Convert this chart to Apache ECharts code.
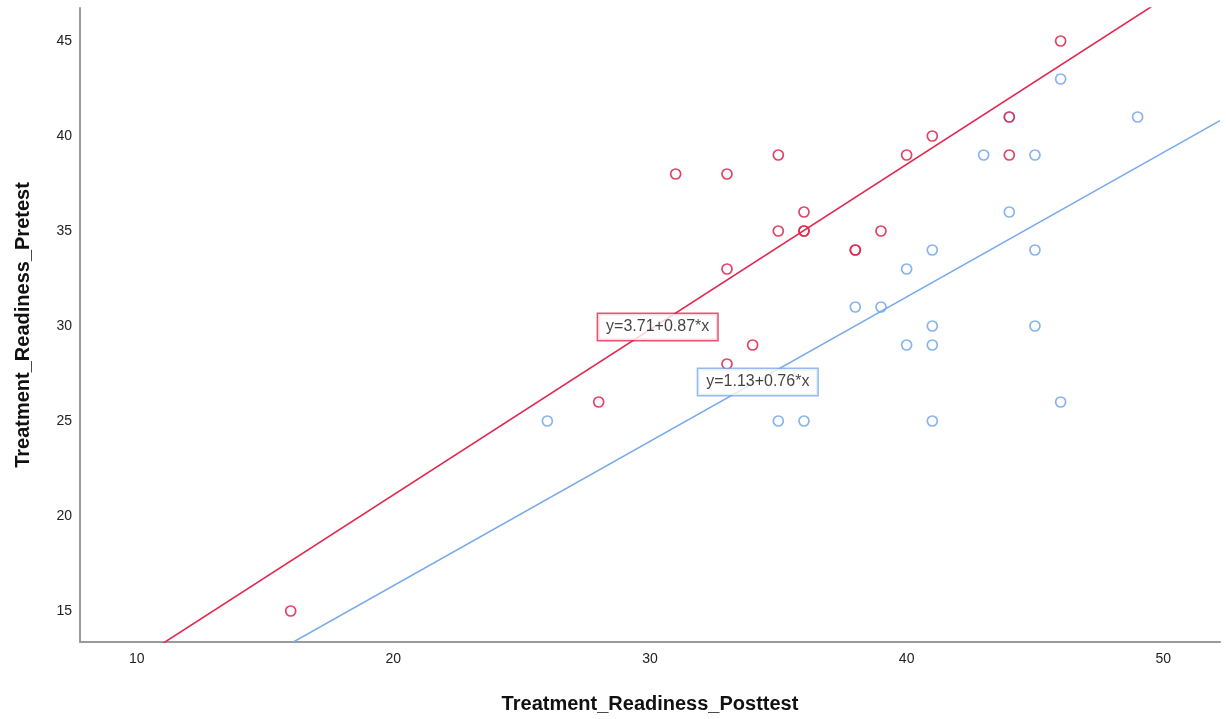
<!DOCTYPE html>
<html>
<head>
<meta charset="utf-8">
<script src="https://cdn.jsdelivr.net/npm/echarts@6/dist/echarts.min.js"></script>
<style>
html,body{margin:0;padding:0;background:#fff;}
#chart{width:1226px;height:719px;}
</style>
</head>
<body>
<div id="chart"></div>
<script>
// Data
const redX = [16, 28, 31, 33, 33, 33, 34, 35, 35, 36, 36, 36, 38, 38, 39, 40, 41, 44, 44, 46];
const redY = [15, 26, 38, 38, 33, 28, 29, 39, 35, 36, 35, 35, 34, 34, 35, 39, 40, 41, 39, 45];
const blueX = [26, 35, 36, 38, 39, 40, 40, 41, 41, 41, 41, 43, 44, 44, 45, 45, 45, 46, 46, 49];
const blueY = [25, 25, 25, 31, 31, 33, 29, 34, 30, 29, 25, 39, 41, 36, 39, 34, 30, 43, 26, 41];
const redFit = [3.71, 0.87];   // intercept, slope
const blueFit = [1.13, 0.76];
const redFitLabel = 'y=3.71+0.87*x';
const blueFitLabel = 'y=1.13+0.76*x';
const xTicks = [10, 20, 30, 40, 50];
const yTicks = [15, 20, 25, 30, 35, 40, 45];
const xTitle = 'Treatment_Readiness_Posttest';
const yTitle = 'Treatment_Readiness_Pretest';

const RED = '#e0284f';
const BLUE = '#78aaea';
const X_MIN = 7.79, X_MAX = 52.21, Y_MIN = 13.368, Y_MAX = 46.737;
const FONT = 'Liberation Sans, Arial, sans-serif';

function pts(xs, ys) { return xs.map((x, i) => [x, ys[i]]); }
function fitLine(f) { return [[X_MIN, f[0] + f[1] * X_MIN], [X_MAX, f[0] + f[1] * X_MAX]]; }

const chart = echarts.init(document.getElementById('chart'), null, {renderer: 'canvas'});
const markerStyle = c => ({color: 'rgba(0,0,0,0)', borderColor: c, borderWidth: 1.7, opacity: 0.88});
const labelSeries = (pos, text, c) => ({
  type: 'scatter', data: [pos], symbolSize: 1, z: 10,
  itemStyle: {color: 'rgba(0,0,0,0)'},
  label: {show: true, position: 'inside', formatter: text, color: '#111', fontFamily: FONT, fontSize: 16,
    backgroundColor: '#fff', borderColor: c, borderWidth: 1.5, padding: [5, 8]},
  silent: true
});

chart.setOption({
  animation: false,
  grid: {left: 80, right: 6, top: 8, bottom: 77, containLabel: false, outerBoundsMode: 'none'},
  xAxis: {
    type: 'value', min: X_MIN, max: X_MAX,
    name: xTitle, nameLocation: 'middle', nameGap: 52,
    nameTextStyle: {fontFamily: FONT, fontSize: 20, fontWeight: 'bold', color: '#111'},
    axisLine: {show: true, onZero: false, lineStyle: {color: '#9a9a9a', width: 2}},
    axisTick: {show: false},
    splitLine: {show: false},
    axisLabel: {customValues: xTicks, margin: 10, color: '#222', fontFamily: FONT, fontSize: 14}
  },
  yAxis: {
    type: 'value', min: Y_MIN, max: Y_MAX,
    name: yTitle, nameLocation: 'middle', nameGap: 47,
    nameTextStyle: {fontFamily: FONT, fontSize: 20, fontWeight: 'bold', color: '#111'},
    axisLine: {show: true, onZero: false, lineStyle: {color: '#9a9a9a', width: 2}},
    axisTick: {show: false},
    splitLine: {show: false},
    axisLabel: {customValues: yTicks, margin: 8, color: '#222', fontFamily: FONT, fontSize: 14}
  },
  series: [
    {type: 'line', data: fitLine(redFit), symbol: 'none', clip: true, lineStyle: {color: RED, width: 1.6}, z: 2},
    {type: 'line', data: fitLine(blueFit), symbol: 'none', clip: true, lineStyle: {color: BLUE, width: 1.6}, z: 2},
    {type: 'scatter', data: pts(blueX, blueY), symbol: 'circle', symbolSize: 10, itemStyle: markerStyle(BLUE), z: 3},
    {type: 'scatter', data: pts(redX, redY), symbol: 'circle', symbolSize: 10, itemStyle: markerStyle(RED), z: 4},
    labelSeries([30.3, 29.95], redFitLabel, RED),
    labelSeries([34.2, 27.05], blueFitLabel, BLUE)
  ]
});
</script>
</body>
</html>
